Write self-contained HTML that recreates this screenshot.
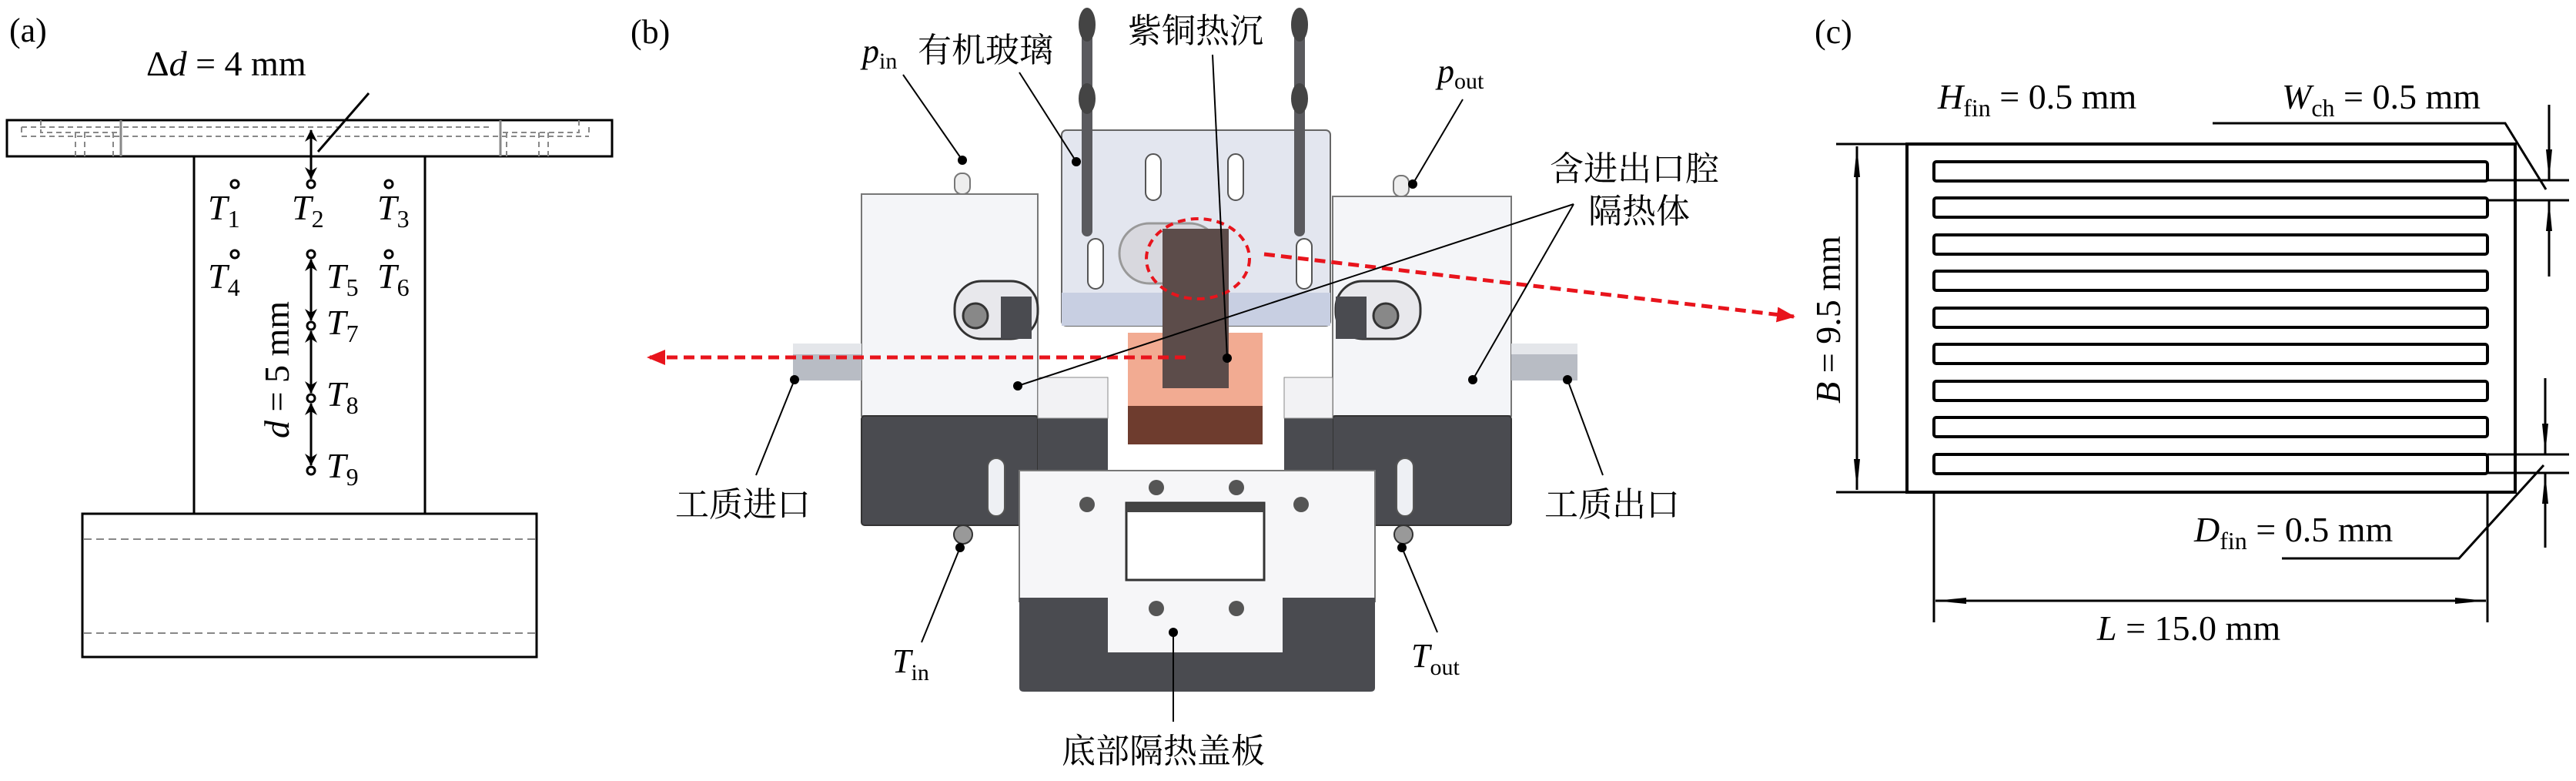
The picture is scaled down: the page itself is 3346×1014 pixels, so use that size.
<!DOCTYPE html>
<html><head><meta charset="utf-8"><style>
html,body{margin:0;padding:0;background:#fff;}
svg{display:block;}
text{font-family:"Liberation Serif","Noto Serif CJK SC",serif;fill:#000;}
.cj{font-family:"Liberation Serif","Noto Serif CJK SC",serif;}
</style></head><body>
<svg width="3346" height="1014" viewBox="0 0 3346 1014" xmlns="http://www.w3.org/2000/svg">
<defs>
<marker id="ah" markerWidth="16" markerHeight="16" refX="15" refY="8" orient="auto-start-reverse" markerUnits="userSpaceOnUse"><path d="M0,0 L16,8 L0,16 L5,8 Z" fill="#000"/></marker>
<marker id="ah2" markerWidth="40" markerHeight="14" refX="40" refY="7" orient="auto-start-reverse" markerUnits="userSpaceOnUse"><path d="M0,3 L40,7 L0,11 Z" fill="#000"/></marker>
<marker id="ra" markerWidth="24" markerHeight="24" refX="22" refY="12" orient="auto" markerUnits="userSpaceOnUse"><path d="M0,2 L24,12 L0,22 Z" fill="#e8141c"/></marker>
</defs>

<!-- ===== Panel (a) ===== -->
<text x="12" y="54" font-size="44">(a)</text>
<text x="190" y="98" font-size="46">Δ<tspan font-style="italic">d</tspan> = 4 mm</text>
<rect x="9" y="156" width="786" height="47" fill="none" stroke="#000" stroke-width="3"/>
<g stroke="#888" stroke-width="2" fill="none" stroke-dasharray="7,5">
<path d="M28,165 H640 M28,177 H765 M28,165 V177 M765,165 V177"/>
<path d="M53,156 V172 H155 M98,172 V203 M110,172 V203 M147,172 V203"/>
<path d="M752,156 V172 H650 M700,172 V203 M712,172 V203 M658,172 V203"/>
</g>
<line x1="157" y1="156" x2="157" y2="203" stroke="#888" stroke-width="3"/>
<line x1="650" y1="156" x2="650" y2="203" stroke="#888" stroke-width="3"/>
<rect x="252" y="203" width="300" height="464" fill="none" stroke="#000" stroke-width="3"/>
<rect x="107" y="667" width="590" height="186" fill="none" stroke="#000" stroke-width="3"/>
<g stroke="#888" stroke-width="2" stroke-dasharray="10,6"><line x1="109" y1="700" x2="695" y2="700"/><line x1="109" y1="822" x2="695" y2="822"/></g>
<line x1="479" y1="121" x2="413" y2="197" stroke="#000" stroke-width="3"/>
<g stroke="#000" stroke-width="3" fill="none">
<line x1="404" y1="169" x2="404" y2="232" marker-start="url(#ah)" marker-end="url(#ah)"/>
<line x1="404" y1="337" x2="404" y2="416" marker-start="url(#ah)" marker-end="url(#ah)"/>
<line x1="404" y1="430" x2="404" y2="510" marker-start="url(#ah)" marker-end="url(#ah)"/>
<line x1="404" y1="524" x2="404" y2="604" marker-start="url(#ah)" marker-end="url(#ah)"/>
<circle cx="305" cy="239" r="5"/><circle cx="404" cy="239" r="5"/><circle cx="505" cy="239" r="5"/>
<circle cx="305" cy="330" r="5"/><circle cx="404" cy="330" r="5"/><circle cx="505" cy="330" r="5"/>
<circle cx="404" cy="423" r="5"/><circle cx="404" cy="517" r="5"/><circle cx="404" cy="611" r="5"/>
</g>
<g font-size="46" font-style="italic">
<text x="270" y="285">T<tspan font-size="32" font-style="normal" dy="10">1</tspan></text>
<text x="379" y="285">T<tspan font-size="32" font-style="normal" dy="10">2</tspan></text>
<text x="490" y="285">T<tspan font-size="32" font-style="normal" dy="10">3</tspan></text>
<text x="270" y="374">T<tspan font-size="32" font-style="normal" dy="10">4</tspan></text>
<text x="424" y="374">T<tspan font-size="32" font-style="normal" dy="10">5</tspan></text>
<text x="490" y="374">T<tspan font-size="32" font-style="normal" dy="10">6</tspan></text>
<text x="424" y="434">T<tspan font-size="32" font-style="normal" dy="10">7</tspan></text>
<text x="424" y="527">T<tspan font-size="32" font-style="normal" dy="10">8</tspan></text>
<text x="424" y="620">T<tspan font-size="32" font-style="normal" dy="10">9</tspan></text>
</g>
<text transform="translate(375,480) rotate(-90)" text-anchor="middle" font-size="46"><tspan font-style="italic">d</tspan> = 5 mm</text>

<!-- ===== Panel (b) ===== -->
<text x="819" y="56" font-size="44">(b)</text>
<rect x="1119" y="252" width="229" height="288" fill="#f4f5f8" stroke="#777" stroke-width="2"/>
<rect x="1119" y="540" width="229" height="142" rx="4" fill="#4a4b50" stroke="#333" stroke-width="2"/>
<rect x="1348" y="543" width="91" height="68" fill="#4a4b50"/>
<rect x="1348" y="490" width="91" height="53" fill="#f2f2f4" stroke="#888" stroke-width="1"/>
<rect x="1030" y="446" width="89" height="48" fill="#b8bcc4"/>
<rect x="1030" y="446" width="89" height="14" fill="#e4e6ea"/>
<rect x="1240" y="225" width="20" height="27" rx="9" fill="#eee" stroke="#777" stroke-width="2"/>
<rect x="1240" y="365" width="108" height="75" rx="35" fill="#e8e8ec" stroke="#333" stroke-width="3"/>
<rect x="1300" y="385" width="40" height="55" fill="#4a4b50"/>
<circle cx="1267" cy="410" r="16" fill="#888" stroke="#333" stroke-width="3"/>
<rect x="1283" y="595" width="22" height="75" rx="11" fill="#eef0f4" stroke="#555" stroke-width="2"/>
<circle cx="1251" cy="694" r="12" fill="#999" stroke="#333" stroke-width="2"/>
<rect x="1731" y="255" width="232" height="285" fill="#f4f5f8" stroke="#777" stroke-width="2"/>
<rect x="1731" y="540" width="232" height="142" rx="4" fill="#4a4b50" stroke="#333" stroke-width="2"/>
<rect x="1668" y="543" width="63" height="68" fill="#4a4b50"/>
<rect x="1668" y="490" width="63" height="53" fill="#f2f2f4" stroke="#888" stroke-width="1"/>
<rect x="1963" y="446" width="86" height="48" fill="#b8bcc4"/>
<rect x="1963" y="446" width="86" height="14" fill="#e4e6ea"/>
<rect x="1810" y="228" width="20" height="27" rx="9" fill="#eee" stroke="#777" stroke-width="2"/>
<rect x="1735" y="365" width="110" height="75" rx="35" fill="#e8e8ec" stroke="#333" stroke-width="3"/>
<rect x="1735" y="385" width="40" height="55" fill="#4a4b50"/>
<circle cx="1800" cy="410" r="16" fill="#888" stroke="#333" stroke-width="3"/>
<rect x="1814" y="595" width="22" height="75" rx="11" fill="#eef0f4" stroke="#555" stroke-width="2"/>
<circle cx="1823" cy="694" r="12" fill="#999" stroke="#333" stroke-width="2"/>
<rect x="1324" y="611" width="462" height="170" fill="#f6f6f8" stroke="#777" stroke-width="2"/>
<path d="M1324,776 H1786 V893 Q1786,898 1780,898 H1330 Q1324,898 1324,893 Z" fill="#4a4b50"/>
<rect x="1439" y="776" width="227" height="71" fill="#f6f6f8"/>
<rect x="1463" y="653" width="179" height="100" fill="#fff" stroke="#333" stroke-width="3"/>
<rect x="1463" y="653" width="179" height="12" fill="#444"/>
<g fill="#555"><circle cx="1502" cy="633" r="10"/><circle cx="1606" cy="633" r="10"/><circle cx="1412" cy="655" r="10"/><circle cx="1690" cy="655" r="10"/><circle cx="1502" cy="790" r="10"/><circle cx="1606" cy="790" r="10"/></g>
<rect x="1379" y="169" width="349" height="254" rx="6" fill="#e3e6ef" stroke="#666" stroke-width="2"/>
<rect x="1379" y="380" width="349" height="43" fill="#c8cfe2"/>
<rect x="1454" y="290" width="130" height="78" rx="39" fill="#d8d8de" stroke="#999" stroke-width="3"/>
<g fill="#fff" stroke="#555" stroke-width="2"><rect x="1488" y="200" width="20" height="60" rx="10"/><rect x="1595" y="200" width="20" height="60" rx="10"/><rect x="1413" y="310" width="20" height="65" rx="10"/><rect x="1684" y="310" width="20" height="65" rx="10"/></g>
<rect x="1465" y="432" width="175" height="95" fill="#f2ab92"/>
<rect x="1465" y="527" width="175" height="50" fill="#6e3c2e"/>
<rect x="1510" y="297" width="86" height="207" fill="#5c4c4a"/>
<g stroke="#5a5a5e" stroke-width="14" stroke-linecap="round"><line x1="1412" y1="22" x2="1412" y2="300"/><line x1="1688" y1="22" x2="1688" y2="300"/></g>
<g fill="#444"><ellipse cx="1412" cy="32" rx="11" ry="22"/><ellipse cx="1688" cy="32" rx="11" ry="22"/><ellipse cx="1412" cy="128" rx="11" ry="20"/><ellipse cx="1688" cy="128" rx="11" ry="20"/></g>
<ellipse cx="1556" cy="336" rx="67" ry="52" fill="none" stroke="#e8141c" stroke-width="4" stroke-dasharray="10,7"/>
<line x1="1540" y1="464" x2="842" y2="464" stroke="#e8141c" stroke-width="5" stroke-dasharray="14,8" marker-end="url(#ra)"/>
<line x1="1642" y1="330" x2="2330" y2="411" stroke="#e8141c" stroke-width="5" stroke-dasharray="14,8" marker-end="url(#ra)"/>
<g stroke="#000" stroke-width="2" fill="none">
<line x1="1173" y1="97" x2="1250" y2="208"/><line x1="1324" y1="94" x2="1398" y2="210"/>
<line x1="1575" y1="71" x2="1594" y2="465"/><line x1="1900" y1="129" x2="1835" y2="239"/>
<line x1="2044" y1="265" x2="1322" y2="501"/><line x1="2044" y1="265" x2="1913" y2="493"/>
<line x1="982" y1="617" x2="1032" y2="493"/><line x1="2082" y1="617" x2="2036" y2="493"/>
<line x1="1197" y1="834" x2="1247" y2="711"/><line x1="1867" y1="821" x2="1821" y2="711"/>
<line x1="1524" y1="937" x2="1524" y2="821"/>
</g>
<g fill="#000"><circle cx="1250" cy="208" r="6"/><circle cx="1398" cy="210" r="6"/><circle cx="1594" cy="465" r="6"/><circle cx="1835" cy="239" r="6"/><circle cx="1322" cy="501" r="6"/><circle cx="1913" cy="493" r="6"/><circle cx="1032" cy="493" r="6"/><circle cx="2036" cy="493" r="6"/><circle cx="1247" cy="711" r="6"/><circle cx="1821" cy="711" r="6"/><circle cx="1524" cy="821" r="6"/></g>
<g font-size="44">
<text x="1120" y="81" font-style="italic">p<tspan font-size="30" font-style="normal" dy="8">in</tspan></text>
<text x="1192" y="80" class="cj">有机玻璃</text>
<text x="1465" y="55" class="cj">紫铜热沉</text>
<text x="1867" y="107" font-style="italic">p<tspan font-size="30" font-style="normal" dy="8">out</tspan></text>
<text x="2013" y="234" class="cj">含进出口腔</text>
<text x="2063" y="289" class="cj">隔热体</text>
<text x="877" y="670" class="cj">工质进口</text>
<text x="2006" y="670" class="cj">工质出口</text>
<text x="1159" y="873" font-style="italic">T<tspan font-size="30" font-style="normal" dy="10">in</tspan></text>
<text x="1833" y="866" font-style="italic">T<tspan font-size="30" font-style="normal" dy="10">out</tspan></text>
<text x="1379" y="990" class="cj">底部隔热盖板</text>
</g>

<!-- ===== Panel (c) ===== -->
<text x="2357" y="56" font-size="44">(c)</text>
<text x="2517" y="141" font-size="46"><tspan font-style="italic">H</tspan><tspan font-size="32" dy="10">fin</tspan><tspan dy="-10"> = 0.5 mm</tspan></text>
<text x="2964" y="141" font-size="46"><tspan font-style="italic">W</tspan><tspan font-size="32" dy="10">ch</tspan><tspan dy="-10"> = 0.5 mm</tspan></text>
<rect x="2477" y="187" width="790" height="452" fill="none" stroke="#000" stroke-width="4"/>
<g stroke="#000" stroke-width="3" fill="none">
<line x1="2385" y1="187" x2="2477" y2="187"/><line x1="2385" y1="639" x2="2477" y2="639"/>
<line x1="2412" y1="190" x2="2412" y2="636" marker-start="url(#ah2)" marker-end="url(#ah2)"/>
</g>
<g stroke="#000" stroke-width="4" fill="#fff">
<rect x="2512" y="210" width="719" height="25" rx="3"/>
<rect x="2512" y="257" width="719" height="25" rx="3"/>
<rect x="2512" y="305" width="719" height="25" rx="3"/>
<rect x="2512" y="352" width="719" height="25" rx="3"/>
<rect x="2512" y="400" width="719" height="25" rx="3"/>
<rect x="2512" y="447" width="719" height="25" rx="3"/>
<rect x="2512" y="495" width="719" height="25" rx="3"/>
<rect x="2512" y="542" width="719" height="25" rx="3"/>
<rect x="2512" y="590" width="719" height="25" rx="3"/>
</g>
<text transform="translate(2390,415) rotate(-90)" text-anchor="middle" font-size="46"><tspan font-style="italic">B</tspan> = 9.5 mm</text>
<g stroke="#000" stroke-width="3" fill="none">
<line x1="3231" y1="234" x2="3337" y2="234"/><line x1="3231" y1="260" x2="3337" y2="260"/>
<line x1="3231" y1="590" x2="3337" y2="590"/><line x1="3231" y1="614" x2="3337" y2="614"/>
<line x1="3311" y1="136" x2="3311" y2="234" marker-end="url(#ah2)"/><line x1="3311" y1="359" x2="3311" y2="260" marker-end="url(#ah2)"/>
<line x1="3306" y1="491" x2="3306" y2="590" marker-end="url(#ah2)"/><line x1="3306" y1="711" x2="3306" y2="614" marker-end="url(#ah2)"/>
<polyline points="2874,160 3254,160 3307,246"/>
<polyline points="2964,725 3194,725 3304,604"/>
<line x1="2512" y1="639" x2="2512" y2="808"/><line x1="3231" y1="639" x2="3231" y2="808"/>
<line x1="2514" y1="780" x2="3229" y2="780" marker-start="url(#ah2)" marker-end="url(#ah2)"/>
</g>
<text x="2850" y="703" font-size="46"><tspan font-style="italic">D</tspan><tspan font-size="32" dy="10">fin</tspan><tspan dy="-10"> = 0.5 mm</tspan></text>
<text x="2724" y="831" font-size="46"><tspan font-style="italic">L</tspan> = 15.0 mm</text>
</svg>
</body></html>
